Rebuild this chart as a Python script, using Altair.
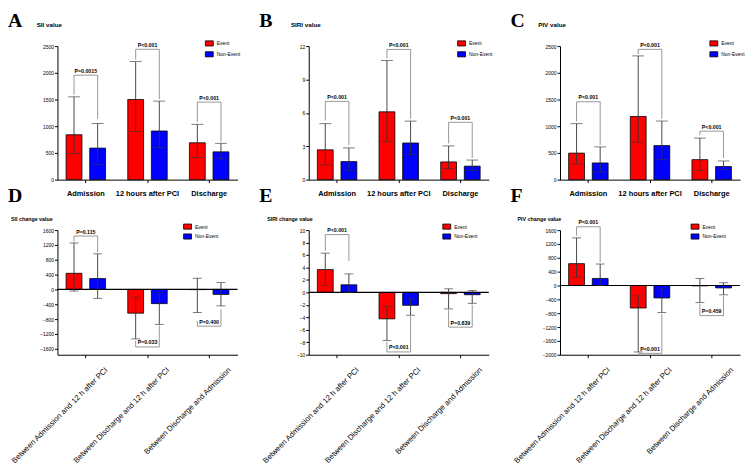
import altair as alt
import pandas as pd

GROUPS = ["Event", "Non-Event"]
COLORS = ["#FF0000", "#0000FF"]

CATS_TOP = ["Admission", "12 hours after PCI", "Discharge"]
CATS_BOT = ["Between Admission and 12 h after PCI",
            "Between Discharge and 12 h after PCI",
            "Between Discharge and Admission"]

# ---- A: SII value
sii_ev = [840, 1500, 690]
sii_ev_lo = [490, 900, 415]
sii_ev_hi = [1550, 2210, 1035]
sii_nv = [590, 910, 520]
sii_nv_lo = [280, 600, 392]
sii_nv_hi = [1050, 1470, 680]
sii_br = [1955, 2440, 1452]
sii_leg_ev = [1590, 2245, 1078]
sii_leg_nv = [1140, 1507, 711]
sii_p = ["P=0.0015", "P<0.001", "P<0.001"]

# ---- B: SIRI value
siri_ev = [2.68, 6.09, 1.59]
siri_ev_lo = [1.32, 3.41, 1.0]
siri_ev_hi = [5.03, 10.7, 3.03]
siri_nv = [1.62, 3.29, 1.21]
siri_nv_lo = [0.82, 2.24, 0.82]
siri_nv_hi = [2.85, 5.26, 1.76]
siri_br = [7.03, 11.7, 5.15]
siri_leg_ev = [5.3, 10.9, 3.26]
siri_leg_nv = [3.1, 5.47, 1.94]
siri_p = ["P<0.001", "P<0.001", "P<0.001"]

# ---- C: PIV value
piv_ev = [496, 1183, 374]
piv_ev_lo = [294, 698, 172]
piv_ev_hi = [1048, 2316, 778]
piv_nv = [312, 637, 245]
piv_nv_lo = [147, 374, 190]
piv_nv_hi = [613, 1097, 349]
piv_br = [1458, 2439, 907]
piv_leg_ev = [1091, 2347, 833]
piv_leg_nv = [650, 1140, 404]
piv_p = ["P<0.001", "P<0.001", "P<0.001"]

# ---- D: SII change value
dsii_ev = [435, -640, -5]
dsii_ev_lo = [-44, -1333, -622]
dsii_ev_hi = [1253, -213, 302]
dsii_nv = [293, -382, -133]
dsii_nv_lo = [-240, -942, -444]
dsii_nv_hi = [960, -80, 187]
dsii_br = [1440, -1550, -990]
dsii_leg_ev = [1290, -1380, -850]
dsii_leg_nv = [1000, -970, -530]
dsii_p = ["P=0.115", "P=0.033", "P=0.400"]

# ---- E: SIRI change value
dsiri_ev = [3.66, -4.24, -0.2]
dsiri_ev_lo = [1.1, -7.7, -2.65]
dsiri_ev_hi = [6.3, -2.23, 0.58]
dsiri_nv = [1.22, -2.07, -0.37]
dsiri_nv_lo = [0.0, -3.66, -1.75]
dsiri_nv_hi = [2.97, -1.06, 0.32]
dsiri_br = [9.28, -9.55, -5.57]
dsiri_leg_ev = [6.7, -7.9, -2.8]
dsiri_leg_nv = [5.04, -3.8, -1.96]
dsiri_p = ["P<0.001", "P<0.001", "P=0.839"]

# ---- F: PIV change value
dpiv_ev = [630, -650, -10]
dpiv_ev_lo = [240, -1920, -495]
dpiv_ev_hi = [1375, -300, 200]
dpiv_nv = [203, -360, -70]
dpiv_nv_lo = [0, -780, -270]
dpiv_nv_hi = [620, -97, 78]
dpiv_br = [1695, -1960, -870]
dpiv_leg_ev = [1440, -1940, -530]
dpiv_leg_nv = [670, -820, -310]
dpiv_p = ["P<0.001", "P<0.001", "P=0.459"]

W = 182
H_TOP = 135
H_BOT = 126
FONT = "Liberation Sans"
ERR = "#333333"
BRK = "#8c8c8c"


def panel(letter, title, title_x, cats, ev, ev_lo, ev_hi, nv, nv_lo, nv_hi,
          br, leg_ev, leg_nv, ptxt, domain, ticks, top, legend_x):
    height = H_TOP if top else H_BOT
    bars = pd.DataFrame({
        "cat": cats * 2,
        "group": ["Event"] * 3 + ["Non-Event"] * 3,
        "mean": ev + nv,
        "lo": ev_lo + nv_lo,
        "hi": ev_hi + nv_hi,
    })
    caps = pd.DataFrame({
        "cat": cats * 4,
        "group": (["Event"] * 3 + ["Non-Event"] * 3) * 2,
        "v": ev_lo + nv_lo + ev_hi + nv_hi,
    })
    rows = []
    for i, c in enumerate(cats):
        rows += [(c, "Event", leg_ev[i], 0), (c, "Event", br[i], 1),
                 (c, "Non-Event", br[i], 2), (c, "Non-Event", leg_nv[i], 3)]
    brk = pd.DataFrame(rows, columns=["cat", "group", "mean", "ord"])
    ptab = pd.DataFrame({"cat": cats, "mean": br, "p": ptxt})
    one = pd.DataFrame({"t": [letter], "title": [title]})
    zero = pd.DataFrame({"mean": [0]})

    xscale = alt.Scale(domain=cats, paddingInner=0.36, paddingOuter=0.14)
    xoscale = alt.Scale(domain=GROUPS, paddingInner=0.33, paddingOuter=0)
    yscale = alt.Scale(domain=domain, nice=False, zero=False)

    if top:
        xaxis = alt.Axis(title=None, labelAngle=0, labelFontSize=7.5,
                         labelFontWeight="bold", labelPadding=7, tickSize=3,
                         domainColor="black", tickColor="black",
                         labelColor="black", domainWidth=1)
    else:
        xaxis = alt.Axis(title=None, labelAngle=-45, labelAlign="right",
                         labelBaseline="middle", labelFontSize=7.8,
                         labelPadding=11, labelOffset=21, labelLimit=400,
                         labelOverlap=False, labelBound=False, tickSize=3,
                         domainColor="black", tickColor="black",
                         labelColor="black", domainWidth=1)
    yaxis = alt.Axis(title=None, values=ticks, format="d", labelFontSize=5,
                     labelColor="black", tickSize=3, tickColor="black",
                     domainColor="black", domainWidth=1, grid=False,
                     labelPadding=1)

    X = alt.X("cat:N", scale=xscale, sort=cats, axis=xaxis, title=None)
    XO = alt.XOffset("group:N", scale=xoscale, sort=GROUPS)
    Y = alt.Y("mean:Q", scale=yscale, axis=yaxis, title=None)

    bar = alt.Chart(bars).mark_bar(stroke="black", strokeWidth=0.8).encode(
        x=X, xOffset=XO, y=Y,
        color=alt.Color("group:N", sort=GROUPS,
                        scale=alt.Scale(domain=GROUPS, range=COLORS),
                        legend=alt.Legend(
                            title=None, orient="none", legendX=legend_x,
                            legendY=(-7.2 if top else -8),
                            symbolType="M-1,-0.65L1,-0.65L1,0.65L-1,0.65Z",
                            symbolSize=64, symbolStrokeColor="black",
                            symbolStrokeWidth=0.8, labelFontSize=5,
                            labelColor="black", labelOffset=3,
                            rowPadding=(2 if top else 1), padding=0)),
    )
    err = alt.Chart(bars).mark_rule(color=ERR, strokeWidth=0.9).encode(
        x=X, xOffset=XO,
        y=alt.Y("lo:Q", scale=yscale, axis=yaxis, title=None), y2="hi:Q",
    )
    cap = alt.Chart(caps).mark_tick(color=ERR, thickness=0.9,
                                    size=(12 if top else 9),
                                    orient="horizontal").encode(
        x=X, xOffset=XO,
        y=alt.Y("v:Q", scale=yscale, axis=yaxis, title=None),
    )
    line = alt.Chart(brk).mark_line(color=BRK, strokeWidth=0.9).encode(
        x=X, xOffset=XO, y=Y,
        order="ord:Q", detail="cat:N",
    )
    ptext = alt.Chart(ptab).mark_text(fontSize=5.3, fontWeight="bold",
                                      baseline="bottom", dy=-1.5,
                                      color="black").encode(
        x=X, y=Y, text="p:N",
    )
    lt = alt.Chart(one).mark_text(font="Liberation Serif", fontSize=20,
                                  fontWeight="bold", align="left",
                                  baseline="alphabetic", color="black").encode(
        x=alt.value(-50), y=alt.value(-19.5 if top else -28), text="t:N",
    )
    tt = alt.Chart(one).mark_text(fontSize=(6.3 if top else 5.4),
                                  fontWeight="bold", align="left",
                                  baseline="alphabetic", color="black").encode(
        x=alt.value(title_x), y=alt.value(-19.5 if top else -9),
        text="title:N",
    )
    layers = [bar, err, cap, line, ptext, lt, tt]
    if not top:
        zr = alt.Chart(zero).mark_rule(color="black", strokeWidth=1.2).encode(
            y=Y)
        layers.insert(1, zr)
    return alt.layer(*layers).properties(width=W, height=height)


A = panel("A", "SII value", -21, CATS_TOP, sii_ev, sii_ev_lo, sii_ev_hi,
          sii_nv, sii_nv_lo, sii_nv_hi, sii_br, sii_leg_ev, sii_leg_nv, sii_p,
          [0, 2500], [0, 500, 1000, 1500, 2000, 2500], True, 149)
B = panel("B", "SIRI value", -18, CATS_TOP, siri_ev, siri_ev_lo, siri_ev_hi,
          siri_nv, siri_nv_lo, siri_nv_hi, siri_br, siri_leg_ev, siri_leg_nv,
          siri_p, [0, 12], [0, 3, 6, 9, 12], True, 150)
C = panel("C", "PIV value", -22, CATS_TOP, piv_ev, piv_ev_lo, piv_ev_hi,
          piv_nv, piv_nv_lo, piv_nv_hi, piv_br, piv_leg_ev, piv_leg_nv, piv_p,
          [0, 2500], [0, 500, 1000, 1500, 2000, 2500], True, 151)
D = panel("D", "SII change value", -47, CATS_BOT, dsii_ev, dsii_ev_lo,
          dsii_ev_hi, dsii_nv, dsii_nv_lo, dsii_nv_hi, dsii_br, dsii_leg_ev,
          dsii_leg_nv, dsii_p, [-1760, 1600],
          [-1600, -1200, -800, -400, 0, 400, 800, 1200, 1600], False, 127)
E = panel("E", "SIRI change value", -42, CATS_BOT, dsiri_ev, dsiri_ev_lo,
          dsiri_ev_hi, dsiri_nv, dsiri_nv_lo, dsiri_nv_hi, dsiri_br,
          dsiri_leg_ev, dsiri_leg_nv, dsiri_p, [-10, 10],
          [-10, -8, -6, -4, -2, 0, 2, 4, 6, 8, 10], False, 135)
F = panel("F", "PIV change value", -43, CATS_BOT, dpiv_ev, dpiv_ev_lo,
          dpiv_ev_hi, dpiv_nv, dpiv_nv_lo, dpiv_nv_hi, dpiv_br, dpiv_leg_ev,
          dpiv_leg_nv, dpiv_p, [-2000, 1600],
          [-2000, -1600, -1200, -800, -400, 0, 400, 800, 1200, 1600], False, 132)

chart = alt.concat(
    A, B, C, D, E, F, columns=3,
    spacing=alt.RowColnumber(row=51, column=72), bounds="flush",
    padding=0, background="white",
).resolve_scale(color="independent", x="independent", y="independent",
                xOffset="independent").resolve_legend(
    color="independent").configure(font=FONT).configure_view(stroke=None)

chart.save("out.html", embed_options={"renderer": "svg", "actions": False})
